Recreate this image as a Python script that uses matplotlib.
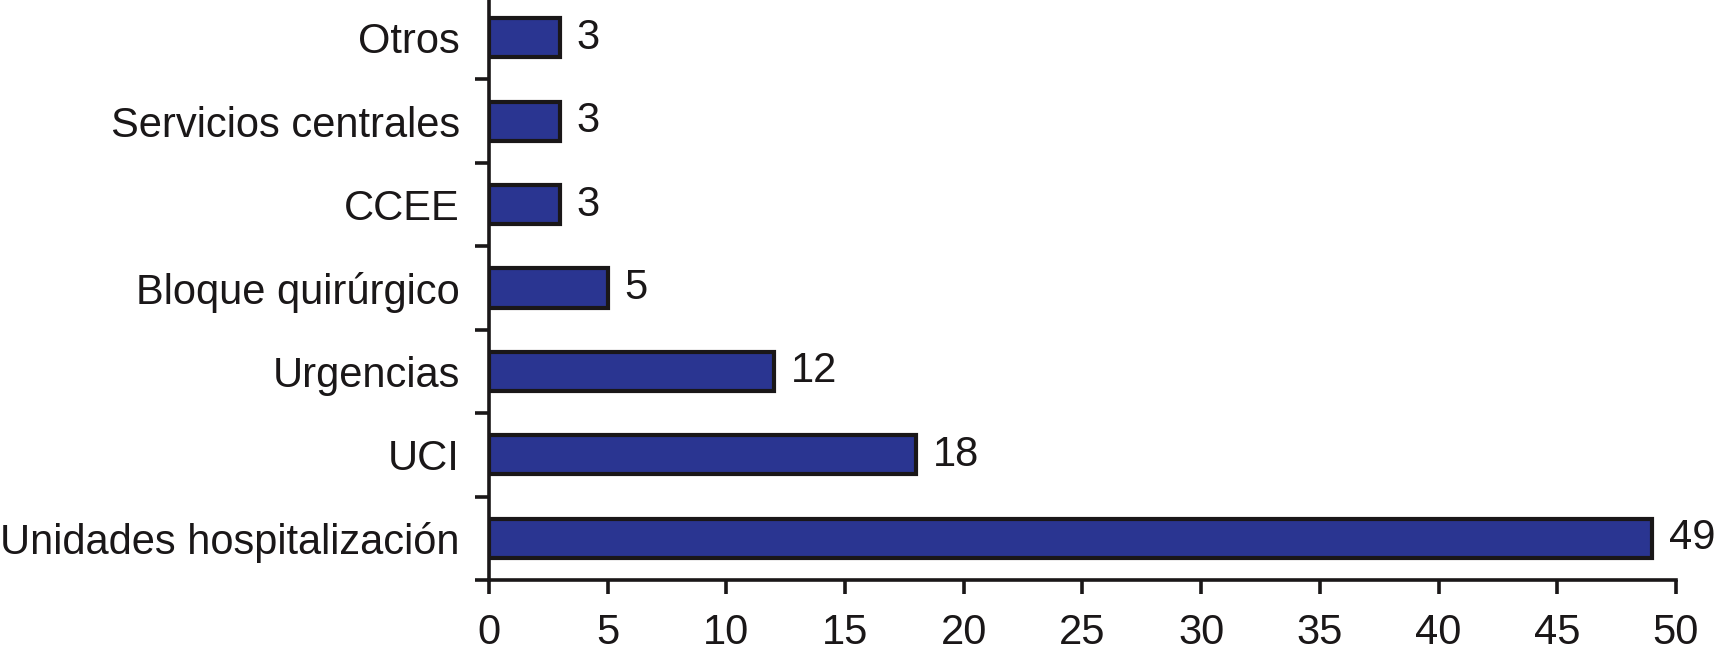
import numpy as np
import matplotlib.pyplot as plt

# categories from bottom to top
categorias = ['Unidades hospitalización', 'UCI', 'Urgencias', 'Bloque quirúrgico',
              'CCEE', 'Servicios centrales', 'Otros']
valores = [49, 18, 12, 5, 3, 3, 3]
xticks = list(range(0, 55, 5))

plt.rcParams['font.family'] = ['Liberation Sans', 'DejaVu Sans']
ink = '#1a1718'
fs = 30

fig = plt.figure(figsize=(17.26, 6.61), dpi=100)
ax = fig.add_axes([0.2833, 0.1225, 0.6877, 0.8835])

pos = np.arange(len(categorias))
ax.barh(pos, valores, height=0.47, color='#2a3591', edgecolor=ink, linewidth=3)

for p, v in zip(pos, valores):
    ax.annotate(str(v), (v, p), xytext=(12, 0), textcoords='offset points',
                ha='left', va='center', fontsize=fs, color=ink)

ax.set_xlim(0, 50)
ax.set_ylim(-0.5, len(categorias) - 0.5)
ax.set_xticks(xticks)
ax.set_xticklabels([str(t) for t in xticks], fontsize=fs, color=ink)

# labels at bar centres, tick marks on the category boundaries
ax.set_yticks(pos)
ax.set_yticklabels(categorias, fontsize=fs, color=ink)
ax.tick_params(axis='y', which='major', length=0, pad=21)
ax.set_yticks(np.arange(-0.5, len(categorias)), minor=True)
ax.tick_params(axis='y', which='minor', length=10, width=2.6, color=ink, direction='out')
ax.tick_params(axis='x', length=10, width=2.6, color=ink, direction='out', pad=14)

for s in ['top', 'right']:
    ax.spines[s].set_visible(False)
for s in ['left', 'bottom']:
    ax.spines[s].set_linewidth(2.6)
    ax.spines[s].set_color(ink)

fig.savefig('out.png', dpi=100)
